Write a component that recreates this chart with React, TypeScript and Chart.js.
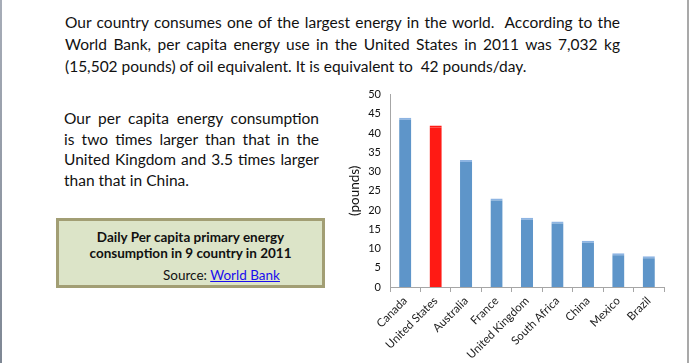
import React, { useEffect, useRef } from "react";
import { Chart, registerables } from "chart.js";

Chart.register(...registerables);

// ---- data ----
const countries = [
  "Canada",
  "United States",
  "Australia",
  "France",
  "United Kingdom",
  "South Africa",
  "China",
  "Mexico",
  "Brazil",
];
const poundsPerDay = [44, 42, 33, 23, 18, 17, 12, 8.8, 8];
const highlightCountry = "United States";
const yMin = 0;
const yMax = 50;
const yStep = 5;
const yTitle = "(pounds)";

const topLines = [
  "Our country consumes one of the largest energy in the world.  According to the",
  "World Bank, per capita energy use in the United States in 2011 was 7,032 kg",
  "(15,502 pounds) of oil equivalent. It is equivalent to  42 pounds/day.",
];
const sideLines = [
  "Our per capita energy consumption",
  "is two times larger than that in the",
  "United Kingdom and 3.5 times larger",
  "than that in China.",
];
const boxLines = ["Daily Per capita primary energy", "consumption in 9 country in 2011"];

const BLUE = "#5E95C9";
const BLUE_TOP = "#8DB4E2";
const RED = "#FF1A14";
const FONT = "Lato, 'Open Sans', sans-serif";

function JustifiedBlock(props: {
  lines: string[];
  left: number;
  top: number;
  width: number;
  fontSize: number;
  lineHeight: number;
}) {
  const { lines, left, top, width, fontSize, lineHeight } = props;
  return (
    <div
      style={{
        position: "absolute",
        left,
        top,
        width,
        fontFamily: FONT,
        fontSize,
        lineHeight: lineHeight + "px",
        color: "#111",
      }}
    >
      {lines.map((l, i) => (
        <div
          key={i}
          style={{
            whiteSpace: "pre",
            textAlign: i === lines.length - 1 ? "left" : "justify",
            textAlignLast: i === lines.length - 1 ? "left" : "justify",
            height: lineHeight,
          } as React.CSSProperties}
        >
          {l}
        </div>
      ))}
    </div>
  );
}

function EnergyChart() {
  const ref = useRef<HTMLCanvasElement | null>(null);
  useEffect(() => {
    if (!ref.current) return;
    const chart = new Chart(ref.current, {
      type: "bar",
      data: {
        labels: countries,
        datasets: [
          {
            data: poundsPerDay,
            backgroundColor: countries.map((c) => (c === highlightCountry ? RED : BLUE)),
            borderColor: countries.map((c) => (c === highlightCountry ? RED : BLUE_TOP)),
            borderWidth: { top: 2, left: 0, right: 0, bottom: 0 },
            categoryPercentage: 1,
            barPercentage: 0.4,
          },
        ],
      },
      options: {
        responsive: false,
        animation: false,
        layout: { autoPadding: false, padding: { top: 5, right: 6, bottom: 0, left: 0 } },
        plugins: { legend: { display: false }, tooltip: { enabled: false } },
        scales: {
          x: {
            afterFit: (s: any) => {
              s.height = 76;
            },
            grid: { display: true, drawOnChartArea: false, tickLength: 5, color: "#A6A6A6", offset: true },
            border: { display: true, color: "#A6A6A6" },
            ticks: {
              autoSkip: false,
              minRotation: 45,
              maxRotation: 45,
              padding: 2,
              color: "#222",
              font: { family: FONT, size: 11.5 },
            },
          },
          y: {
            min: yMin,
            max: yMax,
            afterFit: (s: any) => {
              s.width = 50;
            },
            grid: { display: false, drawTicks: false },
            border: { display: true, color: "#A6A6A6" },
            ticks: { stepSize: yStep, padding: 9, color: "#111", font: { family: FONT, size: 11 } },
            title: {
              display: true,
              text: yTitle,
              color: "#111",
              font: { family: FONT, size: 13.5 },
              padding: { top: 7, bottom: 5 },
            },
          },
        },
      },
    });
    let alive = true;
    const fonts = (document as any).fonts;
    if (fonts) {
      Promise.all([fonts.load("11px Lato"), fonts.load("13.5px Lato")]).then(() => {
        if (alive) chart.update();
      });
    }
    return () => {
      alive = false;
      chart.destroy();
    };
  }, []);
  return (
    <canvas
      ref={ref}
      width={330}
      height={284}
      style={{ position: "absolute", left: 340, top: 79, width: 330, height: 284 }}
    />
  );
}

export default function App() {
  return (
    <div
      style={{
        position: "absolute",
        left: 0,
        top: 0,
        width: 689,
        height: 363,
        background: "#fff",
        overflow: "hidden",
      }}
    >
      <div
        style={{
          position: "absolute",
          left: 0,
          top: 0,
          width: 2,
          height: 363,
          background: "linear-gradient(#A7ADB8, #7E8794)",
        }}
      />
      <div style={{ position: "absolute", left: 687, top: 0, width: 2, height: 363, background: "#A9A9A9" }} />
      <JustifiedBlock lines={topLines} left={65} top={11} width={555} fontSize={15.5} lineHeight={22} />
      <JustifiedBlock lines={sideLines} left={64} top={108} width={255} fontSize={15.5} lineHeight={20.5} />
      <div
        style={{
          position: "absolute",
          left: 56,
          top: 218,
          width: 263,
          height: 64,
          background: "#DCE4C8",
          border: "3px solid #A29E74",
          fontFamily: FONT,
          color: "#111",
        }}
      >
        <div style={{ textAlign: "center", fontWeight: "bold", fontSize: 13.5, lineHeight: "16px", marginTop: 8 }}>
          {boxLines.map((l, i) => (
            <div key={i}>{l}</div>
          ))}
        </div>
        <div style={{ position: "absolute", left: 104, top: 46, fontSize: 13.5, lineHeight: "16px" }}>
          Source:{" "}
          <a href="#" style={{ color: "#1A0DEE", textDecoration: "underline" }}>
            World Bank
          </a>
        </div>
      </div>
      <EnergyChart />
    </div>
  );
}
